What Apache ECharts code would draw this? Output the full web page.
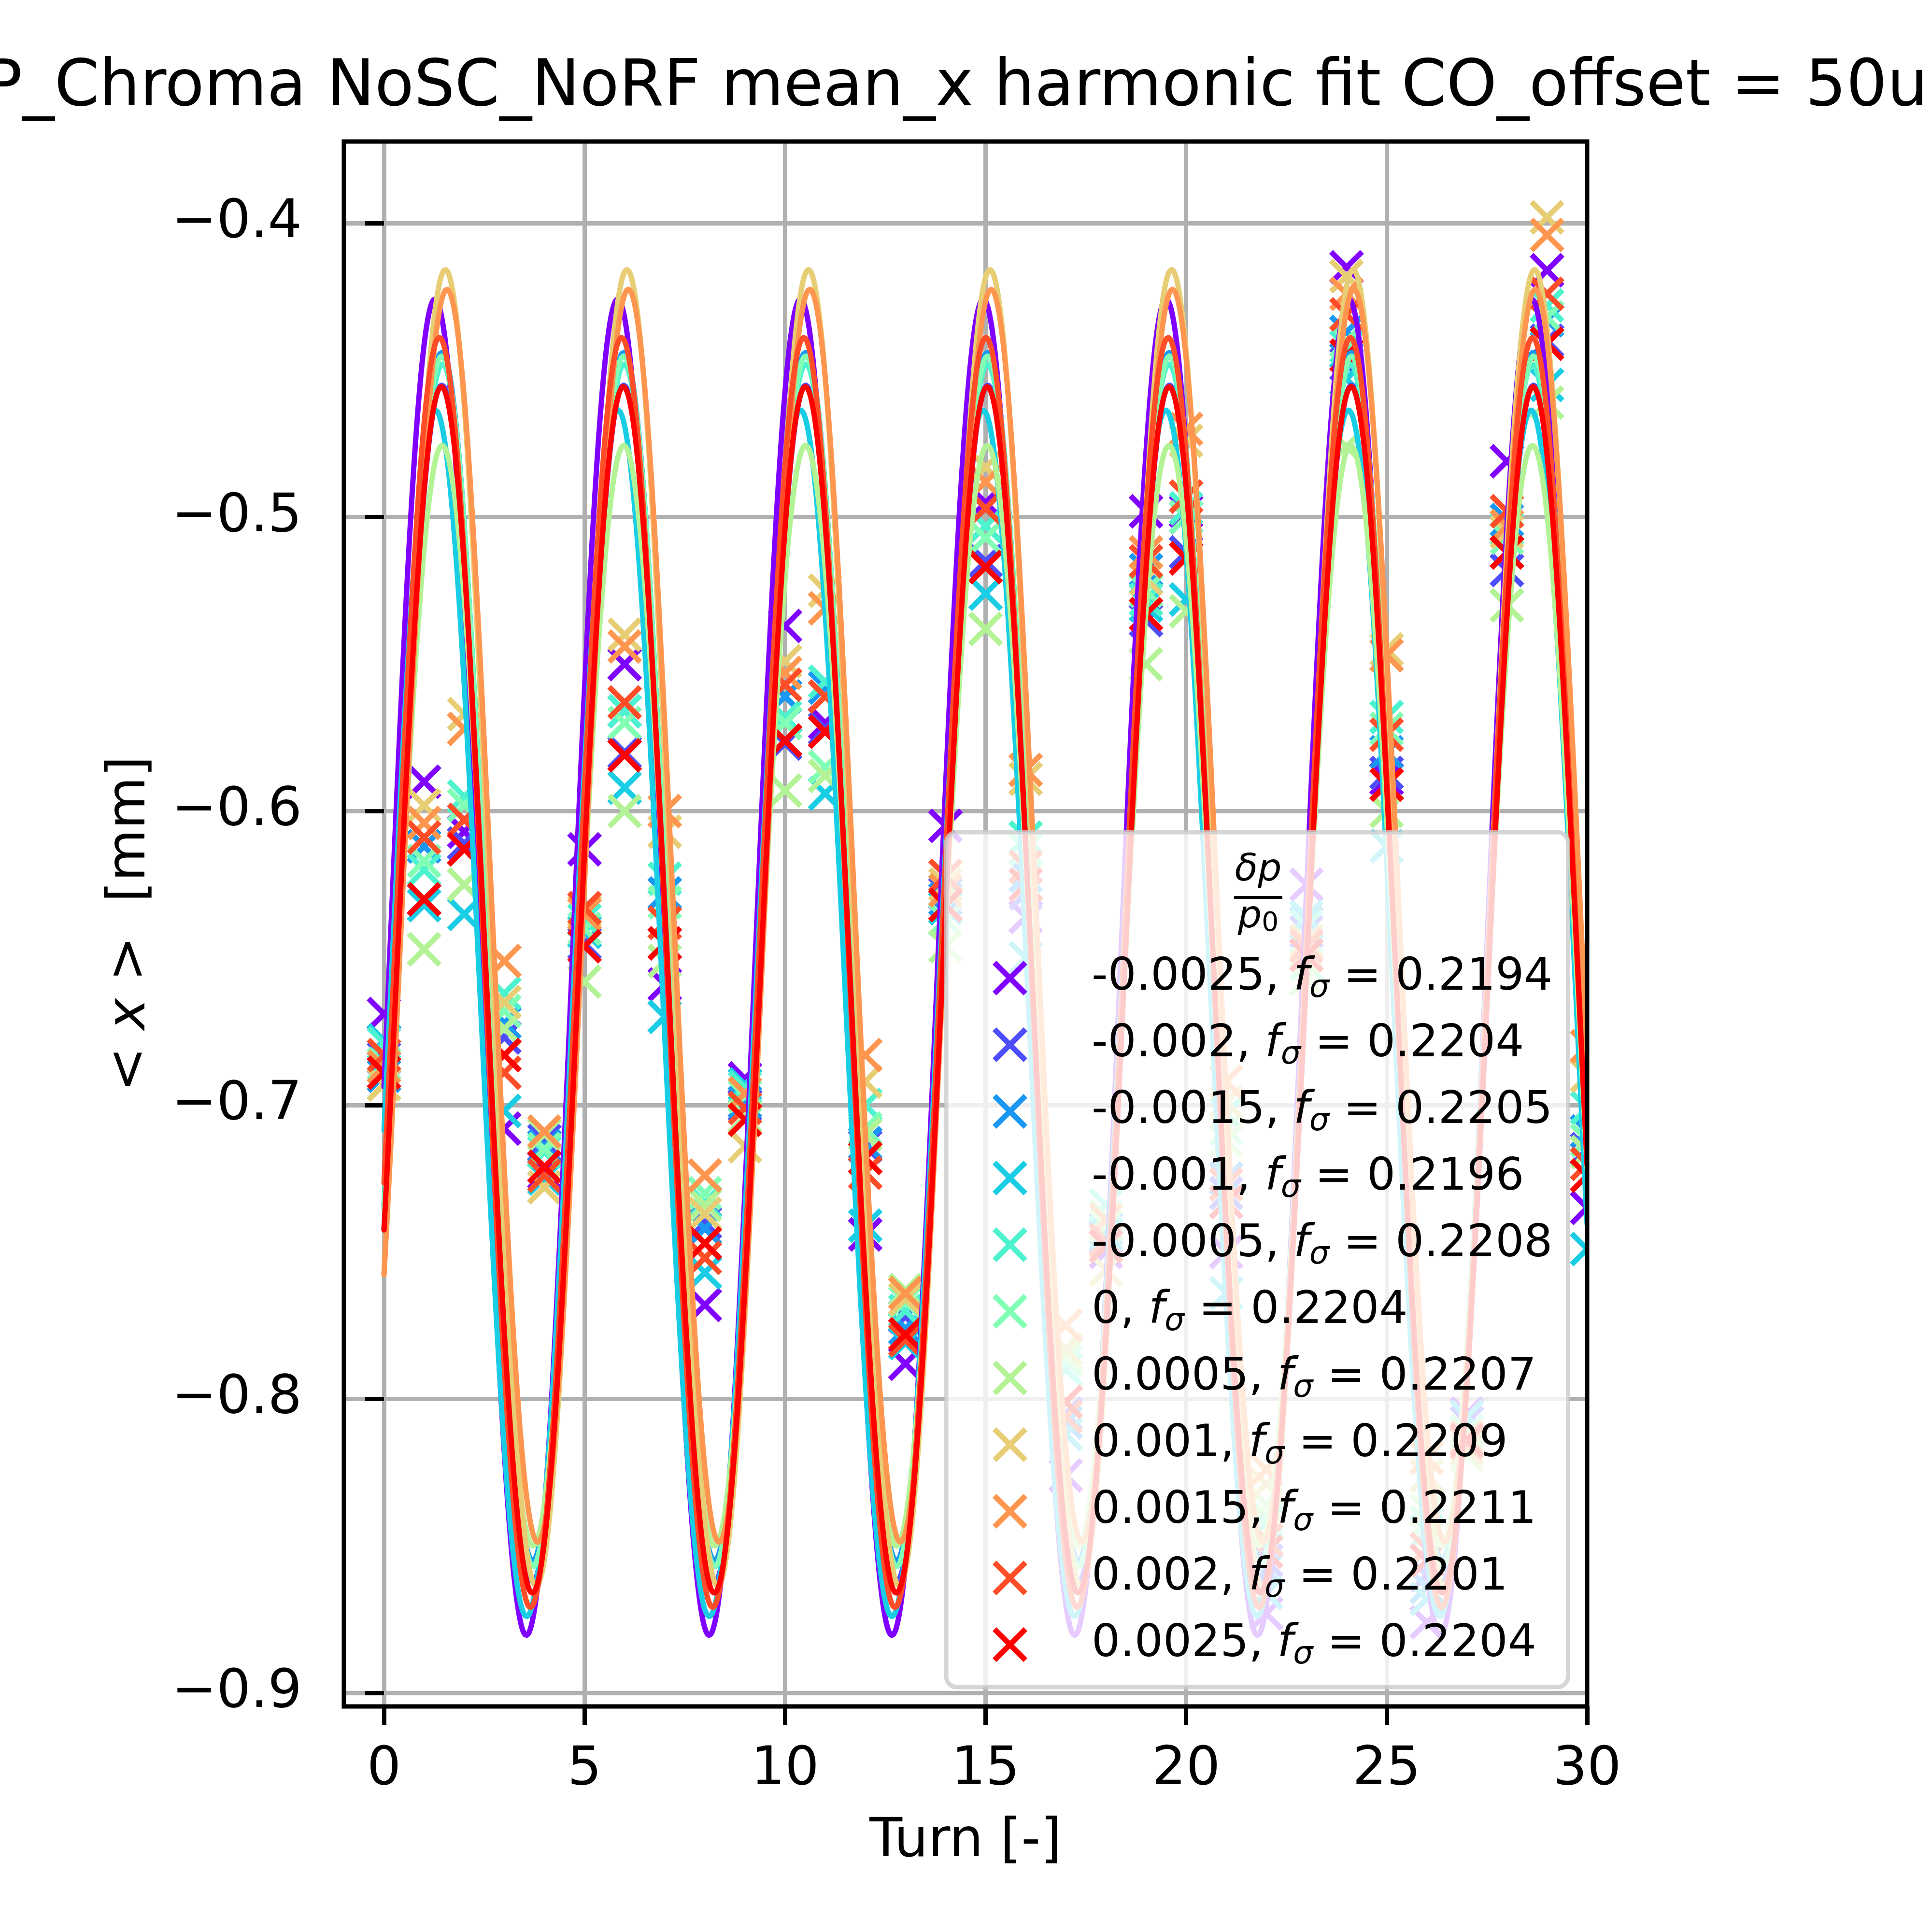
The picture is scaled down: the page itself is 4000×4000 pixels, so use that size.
<!DOCTYPE html>
<html>
<head>
<meta charset="utf-8">
<script src="https://cdn.jsdelivr.net/npm/echarts@6/dist/echarts.min.js"></script>
<style>
html, body { margin: 0; padding: 0; background: #fff; }
#chart { width: 4000px; height: 4000px; }
</style>
</head>
<body>
<div id="chart"></div>
<script>
var dom = document.getElementById('chart');
var myChart = echarts.init(dom, null, { renderer: 'canvas' });

var FONT = 'DejaVu Sans';

var turns = [0,1,2,3,4,5,6,7,8,9,10,11,12,13,14,15,16,17,18,19,20,21,22,23,24,25,26,27,28,29,30];
var dpValues = ['-0.0025', '-0.002', '-0.0015', '-0.001', '-0.0005', '0', '0.0005', '0.001', '0.0015', '0.002', '0.0025'];
var fSigma = [0.2194, 0.2204, 0.2205, 0.2196, 0.2208, 0.2204, 0.2207, 0.2209, 0.2211, 0.2201, 0.2204];
var colors = ['#8000ff', '#4d4dfc', '#1a96f3', '#19cde4', '#4df3ce', '#81ffb4', '#b3f396', '#e7cd73', '#ff964f', '#ff4d27', '#ff0000'];

// harmonic fit parameters (mean, amplitude, turn of first maximum)
var fitMean = [-0.6531, -0.6586, -0.6495, -0.6688, -0.6525, -0.6511, -0.6628, -0.6397, -0.6356, -0.6549, -0.6608];
var fitAmp = [0.2273, 0.2035, 0.2055, 0.2052, 0.2045, 0.2059, 0.1872, 0.2239, 0.2131, 0.2160, 0.2052];
var fitPeakTurn = [1.27, 1.44, 1.44, 1.28, 1.46, 1.44, 1.45, 1.53, 1.57, 1.38, 1.43];

// mean x per turn [mm], one array per dp/p0
var meanX_m0025 = [-0.669,-0.590,-0.607,-0.708,-0.723,-0.613,-0.550,-0.659,-0.768,-0.691,-0.537,-0.570,-0.744,-0.788,-0.605,-0.495,-0.636,-0.826,-0.750,-0.498,-0.498,-0.750,-0.873,-0.625,-0.415,-0.589,-0.876,-0.805,-0.481,-0.416,-0.735];
var meanX_m002 = [-0.684,-0.630,-0.611,-0.677,-0.712,-0.645,-0.580,-0.645,-0.740,-0.700,-0.577,-0.572,-0.714,-0.772,-0.628,-0.515,-0.628,-0.805,-0.745,-0.535,-0.512,-0.730,-0.855,-0.641,-0.448,-0.587,-0.860,-0.808,-0.518,-0.440,-0.715];
var meanX_m0015 = [-0.690,-0.612,-0.603,-0.672,-0.714,-0.641,-0.566,-0.628,-0.742,-0.699,-0.561,-0.558,-0.713,-0.776,-0.630,-0.503,-0.622,-0.808,-0.742,-0.518,-0.500,-0.725,-0.858,-0.638,-0.437,-0.580,-0.864,-0.811,-0.501,-0.433,-0.709];
var meanX_m001 = [-0.678,-0.632,-0.635,-0.702,-0.725,-0.641,-0.592,-0.670,-0.757,-0.693,-0.570,-0.594,-0.741,-0.781,-0.633,-0.526,-0.650,-0.812,-0.744,-0.530,-0.528,-0.764,-0.866,-0.636,-0.453,-0.612,-0.868,-0.806,-0.512,-0.455,-0.749];
var meanX_m0005 = [-0.679,-0.620,-0.595,-0.662,-0.716,-0.637,-0.566,-0.623,-0.733,-0.694,-0.568,-0.556,-0.700,-0.770,-0.627,-0.503,-0.609,-0.790,-0.734,-0.528,-0.497,-0.703,-0.842,-0.639,-0.442,-0.568,-0.845,-0.813,-0.504,-0.428,-0.701];
var meanX_0 = [-0.686,-0.617,-0.598,-0.668,-0.715,-0.640,-0.570,-0.631,-0.730,-0.697,-0.570,-0.585,-0.708,-0.767,-0.637,-0.507,-0.613,-0.787,-0.738,-0.525,-0.500,-0.708,-0.840,-0.652,-0.440,-0.572,-0.842,-0.811,-0.507,-0.432,-0.712];
var meanX_p0005 = [-0.687,-0.647,-0.625,-0.674,-0.710,-0.658,-0.600,-0.651,-0.734,-0.704,-0.593,-0.588,-0.710,-0.763,-0.646,-0.538,-0.625,-0.785,-0.741,-0.550,-0.532,-0.712,-0.836,-0.657,-0.476,-0.600,-0.838,-0.819,-0.530,-0.461,-0.716];
var meanX_p001 = [-0.693,-0.598,-0.567,-0.665,-0.728,-0.634,-0.540,-0.607,-0.737,-0.714,-0.549,-0.525,-0.692,-0.766,-0.625,-0.483,-0.589,-0.783,-0.756,-0.521,-0.474,-0.699,-0.829,-0.644,-0.418,-0.545,-0.826,-0.817,-0.505,-0.398,-0.690];
var meanX_p0015 = [-0.687,-0.604,-0.572,-0.651,-0.709,-0.635,-0.544,-0.600,-0.724,-0.696,-0.553,-0.531,-0.683,-0.764,-0.627,-0.488,-0.586,-0.775,-0.739,-0.512,-0.470,-0.692,-0.824,-0.645,-0.424,-0.547,-0.820,-0.813,-0.503,-0.404,-0.680];
var meanX_p002 = [-0.683,-0.609,-0.603,-0.689,-0.724,-0.633,-0.563,-0.638,-0.752,-0.701,-0.557,-0.561,-0.723,-0.780,-0.622,-0.497,-0.619,-0.806,-0.746,-0.515,-0.493,-0.727,-0.848,-0.646,-0.431,-0.574,-0.851,-0.815,-0.498,-0.424,-0.720];
var meanX_p0025 = [-0.689,-0.630,-0.613,-0.683,-0.721,-0.646,-0.581,-0.645,-0.747,-0.705,-0.576,-0.573,-0.718,-0.778,-0.632,-0.517,-0.625,-0.801,-0.748,-0.533,-0.514,-0.733,-0.852,-0.649,-0.445,-0.591,-0.855,-0.814,-0.512,-0.441,-0.724];

var meanX = [meanX_m0025, meanX_m002, meanX_m0015, meanX_m001, meanX_m0005, meanX_0,
             meanX_p0005, meanX_p001, meanX_p0015, meanX_p002, meanX_p0025];

var xTicks = [0, 5, 10, 15, 20, 25, 30];
var yTicks = [-0.9, -0.8, -0.7, -0.6, -0.5, -0.4];

// matplotlib-like 'x' marker
var xMarker = 'path://M0 11 L11 0 L50 39 L89 0 L100 11 L61 50 L100 89 L89 100 L50 61 L11 100 L0 89 L39 50 Z';

var gridL = 712, gridR = 714, gridT = 293, gridB = 467;

function fitCurve(i) {
  var pts = [];
  for (var k = 0; k <= 1500; k++) {
    var t = k * 0.02;
    pts.push([t, fitMean[i] + fitAmp[i] * Math.cos(2 * Math.PI * fSigma[i] * (t - fitPeakTurn[i]))]);
  }
  return pts;
}

var series = [];
dpValues.forEach(function (d, i) {
  series.push({
    type: 'scatter',
    name: d,
    data: turns.map(function (t, k) { return [t, meanX[i][k]]; }),
    symbol: xMarker,
    symbolSize: 72,
    itemStyle: { color: colors[i], opacity: 1 },
    clip: true,
    silent: true,
    z: 2
  });
});
dpValues.forEach(function (d, i) {
  series.push({
    type: 'line',
    name: 'fit ' + d,
    data: fitCurve(i),
    showSymbol: false,
    symbol: 'none',
    lineStyle: { color: colors[i], width: 11, cap: 'round', join: 'round' },
    itemStyle: { color: colors[i] },
    clip: true,
    silent: true,
    z: 3
  });
});

var option;

option = {
  animation: false,
  backgroundColor: '#fff',
  title: {
    text: 'P_Chroma NoSC_NoRF mean_x harmonic fit CO_offset = 50u',
    left: -34,
    top: 117,
    padding: 0,
    textStyle: { fontFamily: FONT, fontSize: 133, fontWeight: 'normal', color: '#000' }
  },
  grid: {
    left: gridL, right: gridR, top: gridT, bottom: gridB,
    show: true, z: 10,
    backgroundColor: 'transparent',
    borderColor: '#000', borderWidth: 9
  },
  xAxis: {
    type: 'value',
    min: -1, max: 30,
    axisLine: { show: false },
    axisTick: { show: true, customValues: xTicks, length: 39, lineStyle: { color: '#000', width: 9 } },
    axisLabel: { customValues: xTicks, margin: 77, fontFamily: FONT, fontSize: 111, color: '#000' },
    splitLine: { show: true, lineStyle: { color: '#b0b0b0', width: 9 } },
    name: 'Turn [-]',
    nameLocation: 'middle',
    nameGap: 226,
    nameTextStyle: { fontFamily: FONT, fontSize: 111, color: '#000' }
  },
  yAxis: {
    type: 'value',
    min: -0.9046, max: -0.3722,
    axisLine: { show: false },
    axisTick: { show: true, customValues: yTicks, length: 39, lineStyle: { color: '#000', width: 9 } },
    axisLabel: {
      customValues: yTicks, margin: 87, fontFamily: FONT, fontSize: 111, color: '#000',
      formatter: function (v) { return v.toFixed(1).replace('-', '\u2212'); }
    },
    splitLine: { show: true, lineStyle: { color: '#b0b0b0', width: 9 } },
    name: '< {i|x} >  [mm]',
    nameLocation: 'middle',
    nameGap: 386,
    nameTextStyle: {
      fontFamily: FONT, fontSize: 111, color: '#000',
      rich: { i: { fontFamily: FONT, fontSize: 111, fontStyle: 'italic', color: '#000' } }
    }
  },
  legend: {
    orient: 'vertical',
    left: 1959,
    top: 1723,
    padding: [247, 32, 33, 96],
    itemWidth: 72,
    itemHeight: 72,
    itemGap: 28,
    selectedMode: false,
    backgroundColor: 'rgba(255,255,255,0.8)',
    borderColor: 'rgba(204,204,204,0.8)',
    borderWidth: 9,
    borderRadius: 22,
    z: 4,
    data: dpValues.map(function (d, i) {
      return { name: d, icon: xMarker, itemStyle: { color: colors[i] } };
    }),
    formatter: function (name) {
      var i = dpValues.indexOf(name);
      return name + ', {i|f}{s|\u03c3} = ' + fSigma[i].toFixed(4);
    },
    textStyle: {
      fontFamily: FONT, fontSize: 93, color: '#000', lineHeight: 110,
      padding: [0, 0, 0, 128],
      rich: {
        i: { fontFamily: FONT, fontSize: 93, fontStyle: 'italic', color: '#000', lineHeight: 110 },
        s: { fontFamily: FONT, fontSize: 65, fontStyle: 'italic', color: '#000', lineHeight: 56, verticalAlign: 'bottom' }
      }
    }
  },
  graphic: [
    {
      // mask for the part of the markers at turn 30 that lies outside the axes
      type: 'rect', z: 5, silent: true,
      shape: { x: 4000 - gridR, y: gridT, width: gridR, height: 4000 - gridT - gridB },
      style: { fill: '#fff' }
    },
    {
      type: 'text', x: 2605, y: 1803, z: 100,
      style: { text: '\u03b4p', font: 'italic 78px "DejaVu Sans"', textAlign: 'center', textVerticalAlign: 'middle', fill: '#000' }
    },
    {
      type: 'line', z: 100,
      shape: { x1: 2555, y1: 1858, x2: 2655, y2: 1858 },
      style: { stroke: '#000', lineWidth: 6 }
    },
    {
      type: 'text', x: 2605, y: 1900, z: 100,
      style: {
        text: '{p|p}{o|0}', textAlign: 'center', textVerticalAlign: 'middle',
        rich: {
          p: { fontFamily: FONT, fontSize: 78, fontStyle: 'italic', fill: '#000', lineHeight: 80 },
          o: { fontFamily: FONT, fontSize: 55, fill: '#000', lineHeight: 50, verticalAlign: 'bottom' }
        }
      }
    }
  ],
  series: series
};

if (option && typeof option === 'object') {
  myChart.setOption(option);
}

window.addEventListener('resize', myChart.resize);
</script>
</body>
</html>
